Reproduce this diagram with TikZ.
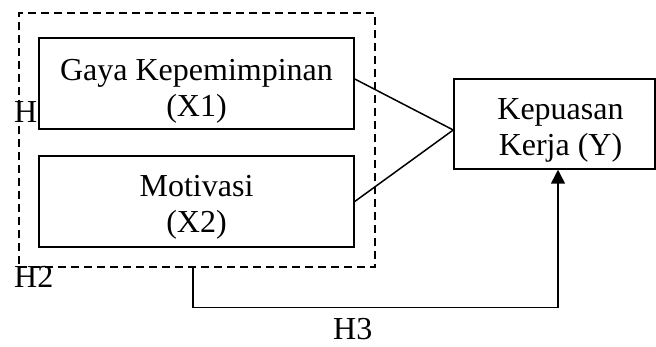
\documentclass[tikz,border=0pt]{standalone}
\usepackage{fontspec}
\setmainfont{Liberation Serif}
\usetikzlibrary{calc,arrows.meta}
\begin{document}
\begin{tikzpicture}[x=1pt,y=-1pt,
  box/.style={draw,line width=1.5pt,rectangle,inner sep=0pt},
  group/.style={draw,line width=1.3pt,dash pattern=on 8pt off 5pt,rectangle,inner sep=0pt},
  txt/.style={align=center,inner sep=0pt,font=\fontsize{32}{36}\selectfont},
  lbl/.style={anchor=base west,inner sep=0pt,font=\fontsize{32}{36}\selectfont},
  link/.style={line width=1.5pt},
  arr/.style={line width=1.5pt,-{Triangle[length=14pt,width=14pt]}}]
\useasboundingbox (0,0) rectangle (656,347);

% dashed group around the two independent variables
\node[group,minimum width=356pt,minimum height=254pt] (g) at (197,140) {};

% variable boxes
\node[box,minimum width=315pt,minimum height=91pt] (x1) at (196.5,83.5) {};
\node[txt] (x1t) at (196.5,91.5) {Gaya Kepemimpinan\\(X1)};
\node[box,minimum width=315pt,minimum height=91pt] (x2) at (196.5,201.5) {};
\node[txt] (x2t) at (196.5,207) {Motivasi\\(X2)};
\node[box,minimum width=201pt,minimum height=90pt] (y) at (554.5,124) {};
\node[txt] (yt) at (560.5,130) {Kepuasan\\Kerja (Y)};

% hypothesis labels
\node[lbl] (h1) at (14,123) {H};
\node[lbl] (h2) at (14,288) {H2};
\node[lbl] (h3) at (333,340) {H3};

% connectors
\coordinate (meet) at ($(y.west)+(0,6)$);
\draw[link] ($(x1.east)+(0,-4.5)$) -- (meet);
\draw[link] (x2.east) -- (meet);
\draw[arr] ($(g.south)+(-4,0)$) -- ++(0,40) -| ($(y.south)+(3.5,0)$);
\end{tikzpicture}
\end{document}
